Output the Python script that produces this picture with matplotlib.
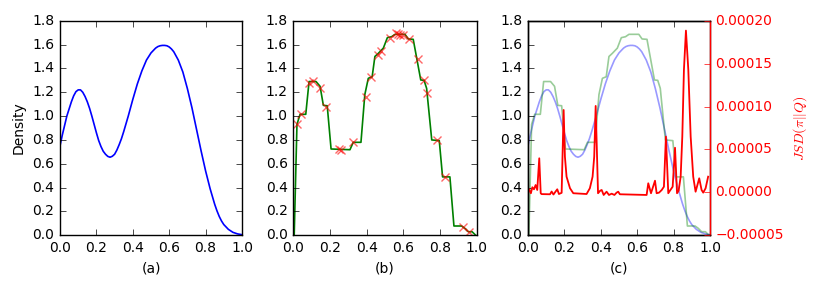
import matplotlib
matplotlib.use('Agg')
import matplotlib.pyplot as plt
from matplotlib.ticker import FuncFormatter, MultipleLocator

# true density (panel a, faded in c)
dens_x = [0.0, 0.0125, 0.025, 0.0375, 0.05, 0.0625, 0.075, 0.0875, 0.1,
          0.1125, 0.125, 0.1375, 0.15, 0.1625, 0.175, 0.1875, 0.2, 0.2125,
          0.225, 0.2375, 0.25, 0.2625, 0.275, 0.2875, 0.3, 0.3125, 0.325,
          0.3375, 0.35, 0.375, 0.4, 0.425, 0.45, 0.475, 0.5, 0.525, 0.5375,
          0.55, 0.5625, 0.575, 0.5875, 0.6, 0.6125, 0.625, 0.65, 0.675,
          0.7, 0.725, 0.75, 0.775, 0.8, 0.825, 0.85, 0.8625, 0.875, 0.8875,
          0.9, 0.925, 0.95, 0.975, 1.0]
dens_y = [0.75, 0.84, 0.92, 1.0, 1.06, 1.12, 1.17, 1.205, 1.22,
          1.22, 1.20, 1.165, 1.12, 1.065, 1.00, 0.93, 0.86, 0.795,
          0.745, 0.705, 0.68, 0.662, 0.655, 0.663, 0.68, 0.715, 0.76,
          0.81, 0.87, 1.00, 1.14, 1.27, 1.38, 1.47, 1.53, 1.57, 1.583,
          1.59, 1.593, 1.593, 1.59, 1.58, 1.563, 1.54, 1.47, 1.37,
          1.23, 1.07, 0.89, 0.71, 0.54, 0.39, 0.26, 0.205, 0.158, 0.12,
          0.09, 0.05, 0.025, 0.012, 0.005]

# estimated density (green line)
est_x = [0.005, 0.02, 0.037, 0.068, 0.086, 0.124, 0.146, 0.164, 0.185,
         0.206, 0.309, 0.327, 0.369, 0.39, 0.409, 0.43, 0.445, 0.464,
         0.491, 0.513, 0.536, 0.555, 0.609, 0.627, 0.654, 0.695, 0.713,
         0.727, 0.755, 0.796, 0.814, 0.854, 0.876, 0.918, 0.936, 0.954,
         0.975, 0.995]
est_y = [0.0, 0.93, 1.015, 1.015, 1.29, 1.29, 1.25, 1.09, 1.087,
         0.724, 0.718, 0.78, 0.78, 1.18, 1.317, 1.33, 1.50, 1.527,
         1.57, 1.658, 1.666, 1.686, 1.686, 1.647, 1.644, 1.303, 1.30,
         1.233, 0.80, 0.794, 0.49, 0.49, 0.078, 0.078, 0.058, 0.03,
         0.03, 0.0]

# samples (red crosses)
smp_x = [0.022, 0.04, 0.085, 0.105, 0.146, 0.176, 0.25, 0.26, 0.324,
         0.396, 0.424, 0.464, 0.476, 0.527, 0.56, 0.57, 0.58, 0.6,
         0.633, 0.682, 0.713, 0.731, 0.782, 0.827, 0.927, 0.96]
smp_y = [0.93, 1.015, 1.28, 1.295, 1.238, 1.074, 0.725, 0.715, 0.78,
         1.163, 1.33, 1.51, 1.55, 1.658, 1.695, 1.69, 1.68, 1.68,
         1.647, 1.476, 1.303, 1.19, 0.80, 0.49, 0.072, 0.03]

# JSD curve (panel c, right axis), values in units of 1e-5
jsd_x = [0.005, 0.016, 0.024, 0.033, 0.042, 0.051, 0.062, 0.07, 0.075,
         0.121, 0.13, 0.14, 0.15, 0.161, 0.17, 0.185, 0.196, 0.203,
         0.212, 0.231, 0.249, 0.322, 0.34, 0.355, 0.364, 0.372, 0.385,
         0.397, 0.405, 0.416, 0.432, 0.445, 0.46, 0.475, 0.487, 0.496,
         0.505, 0.652, 0.661, 0.676, 0.698, 0.707, 0.72, 0.735, 0.747,
         0.758, 0.771, 0.78, 0.795, 0.808, 0.819, 0.828, 0.839, 0.848,
         0.857, 0.868, 0.881, 0.894, 0.908, 0.921, 0.941, 0.954, 0.963,
         0.976, 0.99]
jsd_y = [0.36, -0.1, 0.6, 0.36, 0.86, 0.28, 3.97, -0.1, -0.2,
         -0.22, 0.1, -0.25, 0.05, 0.36, -0.19, -0.05, 9.6, 4.16,
         1.83, 0.48, -0.1, -0.19, 0.48, 1.83, 4.16, 10.07, -0.1,
         0.2, 0.28, -0.3, 0.08, -0.3, -0.15, -0.3, -0.03, 0.08,
         -0.22, -0.3, 1.06, -0.1, 1.36, -0.1, -0.03, 0.28, 0.66,
         6.5, -0.1, 0.2, 0.66, 5.2, -0.1, 0.2, 1.83, 6.5,
         14.3, 18.85, 14.3, 6.5, 1.83, 0.08, 1.64, 0.28, -0.03,
         0.48, 1.83]
jsd_y = [v * 1e-5 for v in jsd_y]

plt.style.use('classic')
plt.rcParams['figure.facecolor'] = 'white'
plt.rcParams['savefig.facecolor'] = 'white'
plt.rcParams['font.size'] = 10
plt.rcParams['mathtext.fontset'] = 'cm'

fig = plt.figure(figsize=(8.22, 2.88), dpi=100)
ax1 = fig.add_axes([0.073, 0.183, 0.2214, 0.745])
ax2 = fig.add_axes([0.3568, 0.183, 0.2231, 0.745])
ax3 = fig.add_axes([0.6423, 0.183, 0.2214, 0.745])

ax1.plot(dens_x, dens_y, color='b', lw=1.2)
ax1.set_ylabel('Density')
ax1.set_xlabel('(a)')

ax2.plot(est_x, est_y, color='g', lw=1.2)
ax2.plot(smp_x, smp_y, linestyle=' ', marker='x', color='r',
         markersize=6, mew=1.0, alpha=0.6)
ax2.set_xlabel('(b)')

ax3.plot(dens_x, dens_y, color='b', lw=1.2, alpha=0.4)
ax3.plot(est_x, est_y, color='g', lw=1.2, alpha=0.4)
ax3.set_xlabel('(c)')

for ax in (ax1, ax2, ax3):
    ax.set_xlim(0, 1.0)
    ax.set_ylim(0, 1.8)
    ax.xaxis.set_major_locator(MultipleLocator(0.2))
    ax.yaxis.set_major_locator(MultipleLocator(0.2))

axr = ax3.twinx()
axr.plot(jsd_x, jsd_y, color='r', lw=1.3)
axr.set_ylim(-0.00005, 0.0002)
axr.yaxis.set_major_locator(MultipleLocator(0.00005))
axr.yaxis.set_major_formatter(
    FuncFormatter(lambda v, p: ('%.5f' % v).replace('-', '\u2212')))
axr.set_ylabel(r'$JSD(\pi||Q)$', color='r')
axr.tick_params(axis='y', colors='r')
axr.spines['right'].set_color('r')

fig.savefig('out.png', dpi=100)
